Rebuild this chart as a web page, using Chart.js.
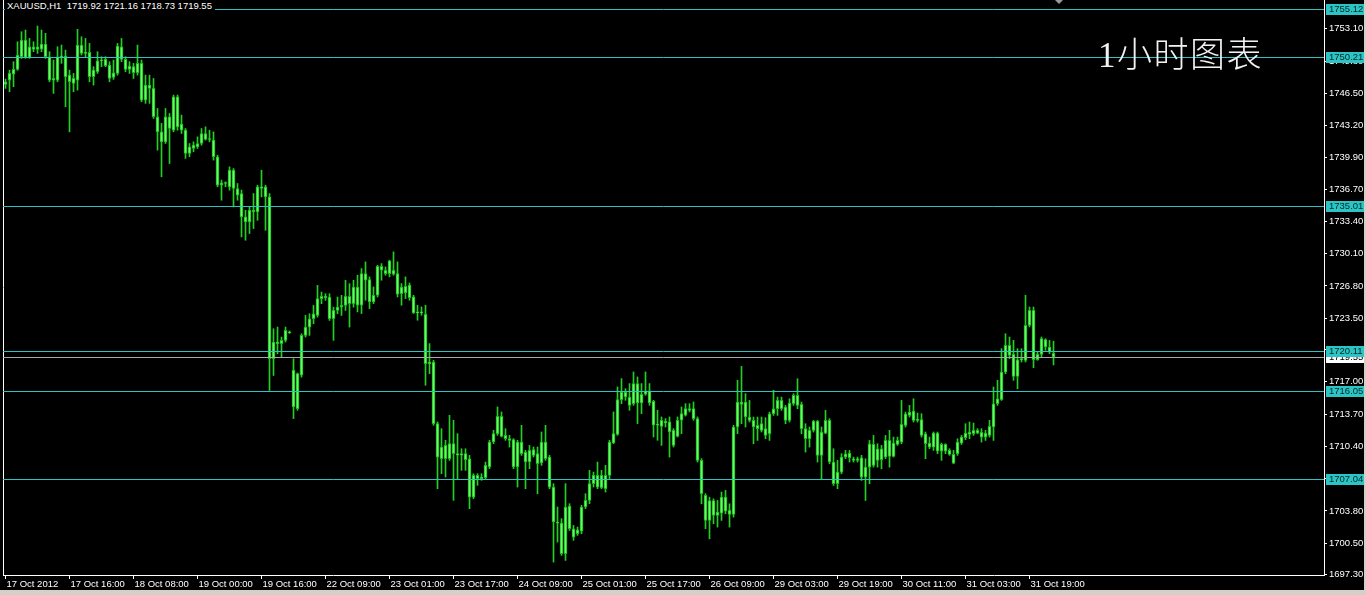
<!DOCTYPE html>
<html>
<head>
<meta charset="utf-8">
<script src="https://cdn.jsdelivr.net/npm/chart.js@4.4.1/dist/chart.umd.min.js"></script>
<style>
  html, body { margin: 0; padding: 0; background: #d4d0c8; }
  #wrap { position: relative; width: 1364px; height: 590px; background: #000; overflow: hidden; }
  #chart { position: absolute; left: 0; top: 0; }
  #info { position: absolute; left: 5px; top: 0; background: #000; color: #fff; white-space: pre;
    font: 9.5px "Liberation Sans", Arial, sans-serif; line-height: 12px; padding: 0 3px 0 2px; }
  #title { position: absolute; left: 1098px; top: 37px; color: #f2f2f2; letter-spacing: 1.5px;
    font: 35px "Liberation Serif", "Noto Sans CJK SC", serif; line-height: 37px; font-weight: 300; }
  #shift { position: absolute; left: 1055px; top: 0; width: 0; height: 0;
    border-left: 4px solid transparent; border-right: 4px solid transparent; border-top: 4px solid #9a9a9a; }
</style>
</head>
<body>
<div id="wrap">
  <canvas id="chart" width="1364" height="590"></canvas>
  <div id="info">XAUUSD,H1  1719.92 1721.16 1718.73 1719.55</div>
  <div id="title">1小时图表</div>
  <div id="shift"></div>
</div>
<script>
// hourly XAUUSD bars, 17 Oct 2012 00:00 onwards
const opens = [
  1747.40, 1747.85, 1748.46, 1748.94, 1750.24, 1751.94, 1750.17, 1751.26, 1750.99, 1751.00,
  1751.53, 1750.24, 1747.85, 1747.85, 1750.24, 1750.31, 1748.36, 1747.51, 1747.85, 1751.43,
  1750.58, 1750.68, 1748.19, 1748.70, 1749.83, 1749.97, 1749.39, 1748.12, 1748.53, 1751.26,
  1749.97, 1748.94, 1749.22, 1748.60, 1749.56, 1745.81, 1747.34, 1747.00, 1744.10, 1742.56,
  1741.54, 1744.10, 1742.73, 1746.15, 1743.35, 1742.73, 1740.35, 1740.86, 1741.03, 1741.37,
  1742.39, 1741.78, 1741.71, 1740.01, 1737.11, 1737.35, 1736.94, 1738.64, 1736.77, 1736.25,
  1733.86, 1733.35, 1734.55, 1734.38, 1736.94, 1736.94, 1735.91, 1719.36, 1721.07, 1720.90,
  1721.24, 1722.10, 1718.19, 1714.26, 1717.67, 1721.75, 1722.60, 1723.45, 1723.79, 1725.50,
  1725.74, 1725.67, 1723.45, 1724.30, 1724.64, 1724.81, 1725.74, 1724.99, 1726.69, 1724.83,
  1728.07, 1727.46, 1725.17, 1725.85, 1728.82, 1728.41, 1728.07, 1728.41, 1728.07, 1726.02,
  1726.77, 1726.88, 1725.68, 1724.04, 1724.15, 1723.91, 1718.86, 1719.03, 1712.73, 1709.14,
  1710.50, 1709.14, 1710.68, 1709.66, 1709.49, 1709.66, 1709.14, 1705.22, 1707.44, 1707.10,
  1707.20, 1708.29, 1710.85, 1711.70, 1713.47, 1711.53, 1711.19, 1711.09, 1708.29, 1710.85,
  1709.83, 1708.80, 1710.07, 1709.66, 1708.70, 1710.85, 1709.31, 1706.24, 1702.67, 1702.56,
  1699.43, 1704.30, 1701.98, 1701.47, 1701.74, 1704.20, 1704.88, 1706.59, 1707.44, 1706.18,
  1707.44, 1707.44, 1710.75, 1711.63, 1715.18, 1715.96, 1715.45, 1714.77, 1716.82, 1714.84,
  1715.73, 1716.07, 1715.01, 1712.56, 1712.45, 1712.96, 1712.90, 1712.04, 1711.43, 1713.07,
  1713.58, 1714.26, 1713.24, 1713.24, 1708.97, 1705.39, 1702.83, 1704.87, 1703.34, 1703.58,
  1705.21, 1703.85, 1703.44, 1712.38, 1714.93, 1714.93, 1713.40, 1713.06, 1712.21, 1712.72,
  1712.21, 1711.69, 1713.74, 1714.25, 1715.10, 1714.42, 1713.06, 1714.76, 1715.61, 1714.69,
  1712.21, 1711.18, 1712.04, 1712.99, 1709.48, 1711.76, 1713.06, 1708.80, 1706.58, 1707.77,
  1709.31, 1709.72, 1709.14, 1708.97, 1709.24, 1707.26, 1708.28, 1710.60, 1708.97, 1710.16,
  1709.31, 1711.01, 1709.38, 1710.60, 1710.84, 1712.55, 1713.57, 1714.01, 1713.06, 1713.13,
  1711.69, 1710.74, 1710.33, 1711.76, 1709.92, 1710.60, 1709.99, 1709.58, 1709.65, 1710.74,
  1711.28, 1711.63, 1711.69, 1712.04, 1711.83, 1711.35, 1711.52, 1712.38, 1714.76, 1715.17,
  1718.00, 1720.73, 1719.81, 1717.56, 1719.26, 1719.20, 1722.78, 1724.31, 1719.26, 1719.81,
  1721.31, 1720.56, 1719.92
];
const highs = [
  1747.95, 1748.87, 1749.73, 1751.77, 1752.80, 1752.97, 1752.11, 1751.77, 1753.38, 1752.97,
  1752.63, 1750.75, 1749.90, 1751.26, 1751.43, 1750.92, 1748.87, 1748.53, 1753.04, 1752.28,
  1752.11, 1751.60, 1749.22, 1750.75, 1750.24, 1750.24, 1749.73, 1749.90, 1751.60, 1752.11,
  1750.24, 1749.73, 1749.56, 1751.43, 1749.90, 1748.36, 1748.36, 1748.02, 1744.95, 1743.42,
  1744.95, 1744.44, 1746.32, 1746.32, 1744.27, 1742.90, 1741.37, 1741.54, 1742.05, 1742.90,
  1743.07, 1742.73, 1742.56, 1740.18, 1737.62, 1737.45, 1738.98, 1738.81, 1737.28, 1736.60,
  1734.55, 1734.89, 1736.25, 1737.11, 1738.64, 1737.11, 1736.25, 1722.43, 1722.60, 1721.58,
  1722.60, 1722.20, 1719.36, 1717.90, 1721.92, 1723.79, 1723.96, 1724.81, 1726.86, 1726.18,
  1726.01, 1726.01, 1724.64, 1725.67, 1725.84, 1727.38, 1727.04, 1727.38, 1727.90, 1728.58,
  1729.26, 1727.73, 1726.70, 1728.92, 1729.09, 1728.75, 1729.43, 1730.29, 1729.26, 1727.05,
  1727.73, 1727.11, 1725.85, 1724.83, 1724.66, 1724.83, 1720.91, 1719.20, 1712.90, 1712.21,
  1711.02, 1713.58, 1713.07, 1711.70, 1710.16, 1710.16, 1709.48, 1707.61, 1707.61, 1707.61,
  1708.80, 1711.02, 1712.04, 1714.43, 1713.92, 1712.21, 1711.53, 1711.19, 1711.02, 1712.55,
  1710.00, 1710.50, 1710.34, 1710.34, 1711.87, 1712.55, 1709.48, 1706.59, 1704.20, 1703.01,
  1706.59, 1704.54, 1702.32, 1702.15, 1704.37, 1705.56, 1707.95, 1707.78, 1708.80, 1707.95,
  1708.46, 1711.02, 1713.92, 1716.48, 1717.33, 1716.30, 1716.82, 1718.01, 1717.50, 1716.82,
  1718.01, 1716.82, 1715.11, 1714.09, 1713.41, 1713.24, 1713.41, 1712.21, 1713.41, 1714.43,
  1714.77, 1714.77, 1714.94, 1713.41, 1709.14, 1705.56, 1705.21, 1705.04, 1704.87, 1705.73,
  1705.90, 1704.53, 1712.55, 1717.15, 1718.58, 1715.79, 1715.10, 1713.40, 1713.40, 1713.40,
  1713.33, 1713.91, 1716.13, 1715.44, 1715.44, 1714.59, 1715.27, 1715.79, 1717.32, 1714.93,
  1712.72, 1712.38, 1713.06, 1713.06, 1712.38, 1714.08, 1713.23, 1710.16, 1708.97, 1709.65,
  1709.99, 1709.99, 1709.31, 1709.31, 1709.48, 1709.14, 1711.01, 1711.52, 1710.67, 1710.50,
  1711.52, 1712.04, 1711.35, 1711.35, 1715.10, 1713.91, 1714.59, 1715.27, 1713.81, 1713.74,
  1711.87, 1711.35, 1711.87, 1711.87, 1710.74, 1710.67, 1710.16, 1709.99, 1711.18, 1711.52,
  1712.72, 1712.89, 1712.79, 1712.21, 1712.21, 1712.04, 1713.06, 1716.47, 1717.15, 1720.39,
  1721.92, 1721.58, 1721.24, 1720.39, 1720.39, 1725.85, 1724.65, 1724.65, 1720.05, 1721.58,
  1721.41, 1721.24, 1721.16
];
const lows = [
  1747.00, 1746.66, 1747.17, 1748.85, 1750.07, 1750.07, 1750.07, 1750.75, 1750.58, 1750.75,
  1750.07, 1747.68, 1746.49, 1747.68, 1749.56, 1745.12, 1742.56, 1746.66, 1746.83, 1750.41,
  1750.24, 1747.68, 1747.34, 1748.53, 1749.22, 1749.22, 1747.68, 1747.92, 1748.36, 1749.73,
  1748.70, 1748.53, 1748.02, 1748.36, 1745.64, 1745.47, 1745.47, 1743.93, 1740.69, 1737.96,
  1741.37, 1739.32, 1742.56, 1742.73, 1742.39, 1739.84, 1740.01, 1740.52, 1740.86, 1741.20,
  1741.71, 1741.54, 1739.67, 1736.94, 1735.57, 1736.94, 1736.60, 1734.89, 1735.57, 1731.82,
  1731.48, 1732.16, 1732.67, 1733.52, 1735.91, 1732.50, 1716.12, 1717.65, 1719.87, 1719.53,
  1721.07, 1721.95, 1713.24, 1714.09, 1717.48, 1721.58, 1721.75, 1722.94, 1723.62, 1724.99,
  1725.33, 1723.28, 1721.24, 1723.96, 1723.79, 1724.30, 1722.60, 1724.64, 1724.15, 1723.98,
  1725.34, 1724.49, 1725.00, 1725.68, 1727.39, 1727.90, 1727.73, 1727.90, 1725.68, 1724.83,
  1725.51, 1725.34, 1723.98, 1723.30, 1723.81, 1716.65, 1717.84, 1712.56, 1706.07, 1707.61,
  1707.27, 1708.97, 1704.88, 1707.10, 1707.95, 1707.95, 1704.03, 1705.05, 1706.42, 1706.93,
  1707.10, 1708.12, 1710.68, 1711.53, 1711.36, 1711.02, 1710.33, 1708.12, 1706.24, 1709.48,
  1706.07, 1708.12, 1709.31, 1705.56, 1708.46, 1708.97, 1706.07, 1698.57, 1700.62, 1699.26,
  1698.74, 1701.81, 1700.79, 1701.30, 1701.47, 1704.03, 1704.54, 1706.24, 1706.07, 1706.07,
  1705.73, 1707.10, 1710.68, 1711.53, 1714.77, 1715.11, 1714.09, 1714.60, 1712.73, 1713.75,
  1715.62, 1714.60, 1711.36, 1711.02, 1710.50, 1712.38, 1709.31, 1710.34, 1711.36, 1711.70,
  1713.50, 1713.92, 1713.07, 1708.80, 1704.53, 1701.98, 1700.95, 1702.49, 1702.15, 1702.83,
  1703.51, 1702.15, 1703.17, 1711.70, 1712.72, 1712.38, 1712.89, 1710.67, 1711.01, 1711.87,
  1711.18, 1711.01, 1713.57, 1713.57, 1714.08, 1712.72, 1712.89, 1714.59, 1714.25, 1711.69,
  1709.82, 1710.33, 1711.87, 1708.80, 1707.09, 1711.69, 1708.62, 1706.41, 1706.07, 1707.60,
  1709.14, 1708.80, 1708.80, 1708.80, 1706.92, 1704.87, 1706.58, 1708.28, 1708.28, 1708.11,
  1709.14, 1708.28, 1709.31, 1710.50, 1710.67, 1712.38, 1713.40, 1712.89, 1712.89, 1711.35,
  1709.14, 1710.16, 1709.99, 1709.65, 1708.97, 1709.65, 1709.48, 1708.62, 1709.48, 1710.60,
  1711.08, 1711.18, 1711.52, 1711.69, 1710.84, 1711.01, 1711.35, 1711.01, 1714.59, 1715.10,
  1717.83, 1719.37, 1717.15, 1716.30, 1719.03, 1719.03, 1722.61, 1718.44, 1719.20, 1719.54,
  1720.22, 1719.88, 1718.73
];
const closes = [
  1747.68, 1748.53, 1748.94, 1750.41, 1751.94, 1750.17, 1751.26, 1750.99, 1751.26, 1751.53,
  1750.24, 1747.85, 1748.02, 1750.24, 1750.31, 1748.19, 1747.68, 1748.02, 1751.43, 1750.58,
  1750.68, 1748.19, 1748.87, 1749.83, 1749.90, 1749.32, 1748.02, 1748.60, 1751.33, 1749.97,
  1748.94, 1749.29, 1748.60, 1749.56, 1745.81, 1747.34, 1747.00, 1744.10, 1742.56, 1741.54,
  1744.10, 1742.90, 1746.15, 1743.07, 1742.73, 1740.35, 1741.03, 1741.20, 1741.37, 1742.39,
  1741.78, 1741.88, 1740.01, 1737.11, 1737.35, 1737.28, 1738.64, 1736.77, 1736.08, 1733.86,
  1733.35, 1734.55, 1734.38, 1736.94, 1736.77, 1735.91, 1719.36, 1721.07, 1720.90, 1721.24,
  1722.26, 1722.02, 1714.43, 1717.84, 1721.75, 1722.60, 1723.45, 1723.96, 1725.50, 1725.74,
  1725.60, 1723.45, 1724.30, 1724.64, 1724.81, 1725.74, 1724.99, 1726.69, 1724.83, 1728.07,
  1727.39, 1725.17, 1725.85, 1728.82, 1728.41, 1728.07, 1729.37, 1728.00, 1725.96, 1726.70,
  1726.09, 1725.61, 1724.04, 1724.15, 1724.04, 1718.86, 1719.03, 1712.73, 1709.31, 1710.33,
  1709.14, 1710.68, 1709.66, 1709.49, 1709.66, 1709.04, 1705.22, 1707.44, 1707.10, 1707.27,
  1708.46, 1710.85, 1711.70, 1713.47, 1711.43, 1711.19, 1711.02, 1708.29, 1710.85, 1709.66,
  1708.80, 1710.00, 1709.48, 1708.63, 1710.85, 1709.14, 1706.24, 1702.67, 1702.56, 1699.43,
  1704.20, 1701.98, 1701.13, 1701.88, 1704.20, 1704.88, 1706.59, 1707.44, 1706.24, 1707.44,
  1706.07, 1710.85, 1711.70, 1715.18, 1715.96, 1715.45, 1714.60, 1716.82, 1714.84, 1715.73,
  1716.07, 1714.84, 1712.56, 1712.62, 1713.07, 1712.79, 1711.87, 1710.50, 1713.07, 1713.75,
  1714.26, 1714.09, 1714.26, 1708.97, 1705.56, 1702.83, 1704.87, 1703.34, 1703.68, 1705.21,
  1703.78, 1703.44, 1712.38, 1714.93, 1714.69, 1713.40, 1713.06, 1712.38, 1712.55, 1712.04,
  1711.52, 1713.74, 1714.25, 1715.10, 1714.25, 1713.06, 1714.83, 1715.61, 1714.59, 1712.21,
  1711.18, 1712.04, 1712.99, 1709.48, 1711.87, 1713.06, 1708.80, 1706.58, 1707.77, 1709.31,
  1709.65, 1709.24, 1708.97, 1709.14, 1707.26, 1708.28, 1710.67, 1708.45, 1710.16, 1709.04,
  1711.01, 1709.38, 1710.74, 1711.01, 1712.65, 1713.74, 1713.91, 1713.06, 1713.13, 1711.52,
  1710.67, 1710.33, 1711.76, 1709.92, 1710.60, 1709.92, 1709.58, 1708.69, 1710.84, 1711.35,
  1711.76, 1711.87, 1712.04, 1711.76, 1711.35, 1711.76, 1712.45, 1714.76, 1715.27, 1718.00,
  1720.73, 1719.71, 1717.56, 1719.26, 1719.37, 1722.78, 1724.31, 1719.26, 1719.81, 1721.41,
  1720.56, 1720.05, 1719.55
];

// time axis labels, one every 16 bars
const timeLabels = [
  "17 Oct 2012", "17 Oct 16:00", "18 Oct 08:00", "19 Oct 00:00", "19 Oct 16:00", "22 Oct 09:00",
  "23 Oct 01:00", "23 Oct 17:00", "24 Oct 09:00", "25 Oct 01:00", "25 Oct 17:00", "26 Oct 09:00",
  "29 Oct 03:00", "29 Oct 19:00", "30 Oct 11:00", "31 Oct 03:00", "31 Oct 19:00"
];
const barsPerLabel = 16;

const priceTicks = [
  1697.30, 1700.50, 1703.80, 1707.10, 1710.40, 1713.70, 1717.00, 1720.30, 1723.50,
  1726.80, 1730.10, 1733.40, 1736.70, 1739.90, 1743.20, 1746.50, 1749.80, 1753.10
];
const levelLines = [1755.12, 1750.21, 1735.01, 1720.11, 1716.05, 1707.04];
const bidPrice = 1719.55;

const CYAN = "#2cc4c4";
const FONT = { family: "'Liberation Sans', Arial, sans-serif", size: 9.5 };

function priceBox(ctx, area, y, text, bg, fg) {
  const x0 = area.right + 2;
  ctx.fillStyle = bg;
  ctx.fillRect(x0, Math.round(y) - 5, 40, 11);
  ctx.fillStyle = fg;
  ctx.font = `${FONT.size}px ${FONT.family}`;
  ctx.textBaseline = "middle";
  ctx.textAlign = "left";
  ctx.fillText(text, x0 + 3, Math.round(y) + 0.5);
}

const overlay = {
  id: "mtOverlay",
  afterDraw(chart) {
    const { ctx, chartArea: area, scales } = chart;
    const y = scales.y;
    ctx.save();
    ctx.lineWidth = 1;
    // left frame
    ctx.strokeStyle = "#ffffff";
    ctx.beginPath();
    ctx.moveTo(area.left + 0.5, area.top);
    ctx.lineTo(area.left + 0.5, area.bottom);
    ctx.stroke();
    // bid line
    const by = Math.round(y.getPixelForValue(bidPrice)) + 0.5;
    ctx.strokeStyle = "#a8a8a8";
    ctx.beginPath();
    ctx.moveTo(area.left, by);
    ctx.lineTo(area.right, by);
    ctx.stroke();
    // horizontal levels
    ctx.strokeStyle = CYAN;
    levelLines.forEach(level => {
      const py = Math.round(y.getPixelForValue(level)) + 0.5;
      ctx.beginPath();
      ctx.moveTo(area.left, py);
      ctx.lineTo(area.right, py);
      ctx.stroke();
    });
    // price labels on the axis
    priceBox(ctx, area, y.getPixelForValue(bidPrice), bidPrice.toFixed(2), "#ffffff", "#000000");
    levelLines.forEach(level => {
      priceBox(ctx, area, y.getPixelForValue(level), level.toFixed(2), CYAN, "#002828");
    });
    ctx.restore();
  }
};

const bodies = opens.map((o, i) => ({ x: i, y: [o, closes[i]] }));
const wicks = lows.map((l, i) => ({ x: i, y: [l, highs[i]] }));

const xMin = -0.625;
const xMax = 329.625;
const yMin = 1697.25;
const yMax = 1756.04;

new Chart(document.getElementById("chart").getContext("2d"), {
  type: "bar",
  data: {
    datasets: [
      {
        label: "body",
        data: bodies,
        grouped: false,
        barThickness: 3,
        minBarLength: 1,
        backgroundColor: "#6cf86c",
        borderColor: "#10c010",
        borderWidth: 1,
        borderSkipped: false
      },
      {
        label: "wick",
        data: wicks,
        grouped: false,
        barThickness: 1,
        backgroundColor: "#22d022",
        borderWidth: 0
      }
    ]
  },
  options: {
    responsive: false,
    animation: false,
    devicePixelRatio: 1,
    events: [],
    layout: { padding: { left: 3, top: 0, right: 0, bottom: 0 } },
    plugins: { legend: { display: false }, tooltip: { enabled: false } },
    scales: {
      x: {
        type: "linear",
        min: xMin,
        max: xMax,
        offset: false,
        afterBuildTicks: scale => {
          scale.ticks = timeLabels.map((_, k) => ({ value: k * barsPerLabel }));
        },
        afterFit: scale => {
          scale.height = 15;
          scale.paddingLeft = 0;
          scale.paddingRight = 0;
        },
        ticks: {
          color: "#ffffff",
          font: FONT,
          align: "start",
          labelOffset: 1,
          maxRotation: 0,
          autoSkip: false,
          padding: 0,
          callback: (v, idx) => timeLabels[idx]
        },
        grid: { drawOnChartArea: false, drawTicks: true, tickLength: 4, color: "#ffffff", offset: false },
        border: { display: true, color: "#ffffff" }
      },
      y: {
        type: "linear",
        position: "right",
        min: yMin,
        max: yMax,
        beginAtZero: false,
        afterBuildTicks: scale => {
          scale.ticks = priceTicks.map(v => ({ value: v }));
        },
        afterFit: scale => {
          scale.width = 40;
          scale.paddingTop = 0;
          scale.paddingBottom = 0;
        },
        ticks: {
          color: "#ffffff",
          font: FONT,
          padding: 2,
          autoSkip: false,
          callback: v => v.toFixed(2)
        },
        grid: { drawOnChartArea: false, drawTicks: true, tickLength: 3, color: "#ffffff" },
        border: { display: true, color: "#ffffff" }
      }
    }
  },
  plugins: [overlay]
});
</script>
</body>
</html>
